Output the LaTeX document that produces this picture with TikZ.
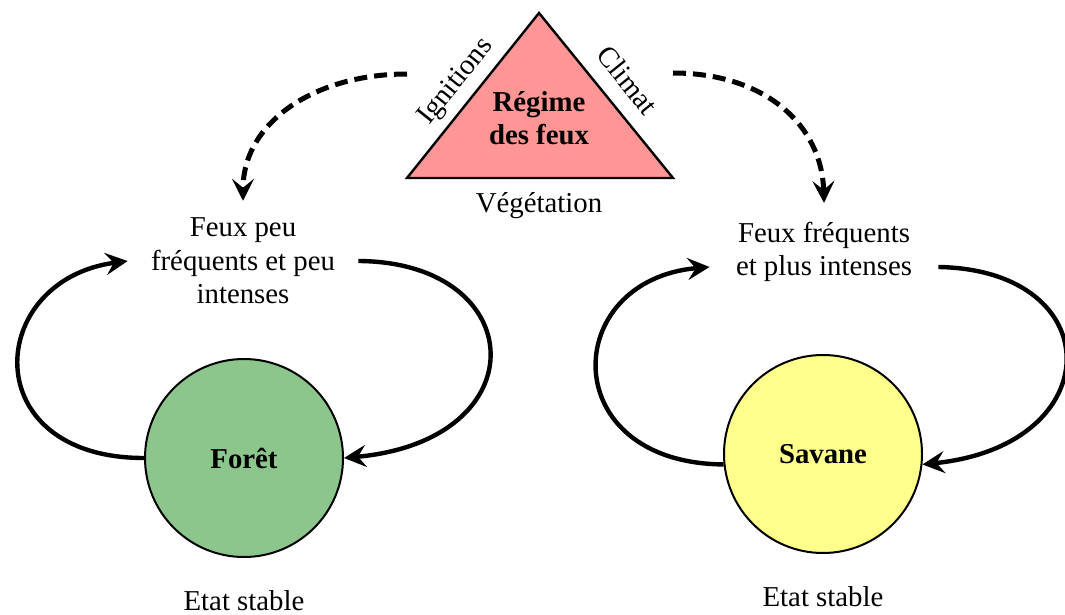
\documentclass[tikz,border=0pt]{standalone}
\usepackage{fontspec}
\setmainfont{Liberation Serif}
\usetikzlibrary{arrows.meta,positioning}

\definecolor{firered}{RGB}{255,150,150}
\definecolor{forestgreen}{RGB}{141,198,141}
\definecolor{savannayellow}{RGB}{255,255,140}

\begin{document}
\begin{tikzpicture}[x=0.5pt, y=-0.5pt, >=Stealth,
  txt/.style={font=\fontsize{14.4}{16.8}\selectfont, align=center},
  statecircle/.style={circle, draw, line width=1pt, minimum size=99pt,
    font=\fontsize{14.4}{16.8}\selectfont\bfseries},
  feedback/.style={->, line width=2.2pt,
    >={Stealth[length=11pt, width=11pt, inset=4pt]}},
  driver/.style={->, line width=2.5pt, dash pattern=on 6.5pt off 3.5pt,
    >={Stealth[length=11pt, width=11pt, inset=4.5pt]}}]

  \useasboundingbox (0,0) rectangle (1065,615);

  % Fire regime triangle
  \coordinate (apex) at (539,13);
  \coordinate (baseL) at (407,178);
  \coordinate (baseR) at (673,178);
  \draw[fill=firered, line width=1.2pt] (apex) -- (baseR) -- (baseL) -- cycle;
  \node[txt, font=\fontsize{14.4}{16.8}\selectfont\bfseries] (regime) at (539,118) {Régime\\des feux};

  % Side labels of the triangle
  \node[txt, rotate=51.3, inner sep=1pt] (ign) at (456,82) {Ignitions};
  \node[txt, rotate=-51.3, inner sep=1pt] (clim) at (628,80) {Climat};
  \node[txt] (veg) at (539,206) {Végétation};

  % Fire descriptions
  \node[txt, inner xsep=11.5pt] (lowfire) at (243,261) {Feux peu\\fréquents et peu\\intenses};
  \node[txt, inner xsep=13pt] (highfire) at (824,252) {Feux fréquents\\et plus intenses};

  % Stable states
  \node[statecircle, fill=forestgreen] (forest) at (244,458) {Forêt};
  \node[statecircle, fill=savannayellow] (savanna) at (823,454) {Savane};
  \node[txt, below=12.5pt of forest] (stableF) {Etat stable};
  \node[txt, below=12.5pt of savanna] (stableS) {Etat stable};

  % Dashed arrows from the triangle
  \coordinate (ignstart) at (407,74);
  \coordinate (climstart) at (673,73);
  \draw[driver] (ignstart) .. controls (315,74) and (243,122) .. ([yshift=5pt]lowfire.north);
  \draw[driver] (climstart) .. controls (765,73) and (822,125) .. ([yshift=6pt]highfire.north);

  % Feedback loop around the forest
  \draw[feedback] (forest.west) .. controls (-25,458) and (-15,280) .. (lowfire.west);
  \draw[feedback] (lowfire.east) .. controls (530,262) and (540,440) .. (forest.east);

  % Feedback loop around the savanna
  \draw[feedback] (savanna.186) .. controls (555,463) and (560,280) .. ([yshift=-7.5pt]highfire.west);
  \draw[feedback] ([yshift=-7.5pt]highfire.east) .. controls (1110,270) and (1110,445) .. (savanna.-6);

\end{tikzpicture}
\end{document}
